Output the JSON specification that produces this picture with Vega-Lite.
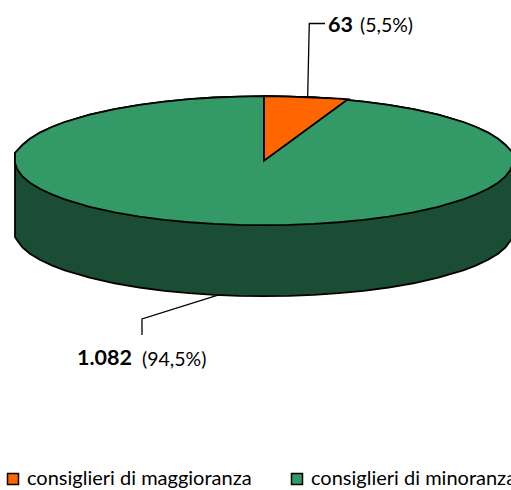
{
"$schema":"https://vega.github.io/schema/vega-lite/v6.json",
"width":511,"height":490,"padding":0,"autosize":{"type":"none"},
"background":"white",
"view":{"stroke":null},
"config":{"font":"Lato"},
"datasets":{
"disc":[
{"x":-100,"top":3.1,"bottom":-0.9,"lower":-30.6,"category":"consiglieri di minoranza"},
{"x":-99,"top":4.2,"bottom":-3.65,"lower":-32.15,"category":"consiglieri di minoranza"},
{"x":-97,"top":6.3,"bottom":-6.3,"lower":-34.8,"category":"consiglieri di minoranza"},
{"x":-94,"top":8.84,"bottom":-8.84,"lower":-37.34,"category":"consiglieri di minoranza"},
{"x":-90,"top":11.29,"bottom":-11.29,"lower":-39.79,"category":"consiglieri di minoranza"},
{"x":-85,"top":13.64,"bottom":-13.64,"lower":-42.14,"category":"consiglieri di minoranza"},
{"x":-80,"top":15.54,"bottom":-15.54,"lower":-44.04,"category":"consiglieri di minoranza"},
{"x":-70,"top":18.5,"bottom":-18.5,"lower":-47,"category":"consiglieri di minoranza"},
{"x":-60,"top":20.72,"bottom":-20.72,"lower":-49.22,"category":"consiglieri di minoranza"},
{"x":-50,"top":22.43,"bottom":-22.43,"lower":-50.93,"category":"consiglieri di minoranza"},
{"x":-40,"top":23.74,"bottom":-23.74,"lower":-52.24,"category":"consiglieri di minoranza"},
{"x":-30,"top":24.71,"bottom":-24.71,"lower":-53.21,"category":"consiglieri di minoranza"},
{"x":-20,"top":25.38,"bottom":-25.38,"lower":-53.88,"category":"consiglieri di minoranza"},
{"x":-10,"top":25.77,"bottom":-25.77,"lower":-54.27,"category":"consiglieri di minoranza"},
{"x":0,"top":25.9,"bottom":-25.9,"lower":-54.4,"category":"consiglieri di minoranza"},
{"x":10,"top":25.77,"bottom":-25.77,"lower":-54.27,"category":"consiglieri di minoranza"},
{"x":20,"top":25.38,"bottom":-25.38,"lower":-53.88,"category":"consiglieri di minoranza"},
{"x":30,"top":24.71,"bottom":-24.71,"lower":-53.21,"category":"consiglieri di minoranza"},
{"x":40,"top":23.74,"bottom":-23.74,"lower":-52.24,"category":"consiglieri di minoranza"},
{"x":50,"top":22.43,"bottom":-22.43,"lower":-50.93,"category":"consiglieri di minoranza"},
{"x":60,"top":20.72,"bottom":-20.72,"lower":-49.22,"category":"consiglieri di minoranza"},
{"x":70,"top":18.5,"bottom":-18.5,"lower":-47,"category":"consiglieri di minoranza"},
{"x":80,"top":15.54,"bottom":-15.54,"lower":-44.04,"category":"consiglieri di minoranza"},
{"x":85,"top":13.64,"bottom":-13.64,"lower":-42.14,"category":"consiglieri di minoranza"},
{"x":90,"top":11.29,"bottom":-11.29,"lower":-39.79,"category":"consiglieri di minoranza"},
{"x":94,"top":8.84,"bottom":-8.84,"lower":-37.34,"category":"consiglieri di minoranza"},
{"x":97,"top":6.3,"bottom":-6.3,"lower":-34.8,"category":"consiglieri di minoranza"},
{"x":99,"top":4.2,"bottom":-3.65,"lower":-32.15,"category":"consiglieri di minoranza"},
{"x":100,"top":3.1,"bottom":-0.9,"lower":-30.6,"category":"consiglieri di minoranza"}
],
"slice":[
{"x":0,"top":25.9,"bottom":0,"category":"consiglieri di maggioranza"},
{"x":10,"top":25.77,"bottom":7.32,"category":"consiglieri di maggioranza"},
{"x":20,"top":25.38,"bottom":14.64,"category":"consiglieri di maggioranza"},
{"x":30,"top":24.9,"bottom":21.95,"category":"consiglieri di maggioranza"},
{"x":33.7,"top":24.66,"bottom":24.66,"category":"consiglieri di maggioranza"}
],
"leaders":[
{"x":17.55,"y":25.98,"leader":"maggioranza","step":1},
{"x":18.19,"y":55.1,"leader":"maggioranza","step":2},
{"x":24.5,"y":55.1,"leader":"maggioranza","step":3},
{"x":-18.47,"y":-53.94,"leader":"minoranza","step":1},
{"x":-49,"y":-63.57,"leader":"minoranza","step":2},
{"x":-49,"y":-70,"leader":"minoranza","step":3}
]
},
"encoding":{
"x":{"field":"x","type":"quantitative","axis":null,"scale":{"domain":[-106.02,99.2],"nice":false,"zero":false}}
},
"layer":[
{"data":{"name":"disc"},
 "mark":{"type":"area","fill":"#1A4D33","stroke":"black","strokeWidth":1.8},
 "encoding":{"y":{"field":"lower","type":"quantitative","stack":false,"axis":null,"scale":{"domain":[-132.25,64.54],"nice":false,"zero":false}},"y2":{"field":"top"}}},
{"data":{"name":"disc"},
 "mark":{"type":"area","stroke":"black","strokeWidth":1.8,"opacity":1},
 "encoding":{"y":{"field":"top","type":"quantitative","stack":false,"axis":null,"scale":{"domain":[-132.25,64.54],"nice":false,"zero":false}},"y2":{"field":"bottom"},
  "color":{"field":"category","type":"nominal","scale":{"domain":["consiglieri di maggioranza","consiglieri di minoranza"],"range":["#FF6600","#339966"]},
   "legend":{"title":null,"orient":"none","legendX":3,"legendY":469,"direction":"horizontal","symbolType":"square","symbolSize":121,"symbolOpacity":1,"labelFontSize":20,"labelFont":"Lato","labelColor":"black","labelOffset":4,"columnPadding":35,"labelLimit":300,
    "encode":{"symbols":{"update":{"stroke":{"value":"black"},"strokeWidth":{"value":1.5}}}}}}}},
{"data":{"name":"slice"},
 "mark":{"type":"area","stroke":"black","strokeWidth":1.8,"opacity":1},
 "encoding":{"y":{"field":"top","type":"quantitative","stack":false,"axis":null,"scale":{"domain":[-132.25,64.54],"nice":false,"zero":false}},"y2":{"field":"bottom"},
  "color":{"field":"category","type":"nominal"}}},
{"data":{"name":"leaders"},
 "mark":{"type":"line","color":"black","strokeWidth":1.3},
 "encoding":{"y":{"field":"y","type":"quantitative","axis":null,"scale":{"domain":[-132.25,64.54],"nice":false,"zero":false}},"detail":{"field":"leader"},"order":{"field":"step"}}},
{"data":{"values":[{"x":25.7,"y":54.1,"label":"63"},{"x":-75.1,"y":-79.6,"label":"1.082"}]},
 "mark":{"type":"text","align":"left","baseline":"middle","fontWeight":"bold","fontSize":21.5,"color":"black"},
 "encoding":{"y":{"field":"y","type":"quantitative","axis":null,"scale":{"domain":[-132.25,64.54],"nice":false,"zero":false}},"text":{"field":"label"}}},
{"data":{"values":[{"x":38.55,"y":54.1,"label":"(5,5%)"},{"x":-49,"y":-80,"label":"(94,5%)"}]},
 "mark":{"type":"text","align":"left","baseline":"middle","fontSize":19.5,"color":"black"},
 "encoding":{"y":{"field":"y","type":"quantitative","axis":null,"scale":{"domain":[-132.25,64.54],"nice":false,"zero":false}},"text":{"field":"label"}}}
]
}
